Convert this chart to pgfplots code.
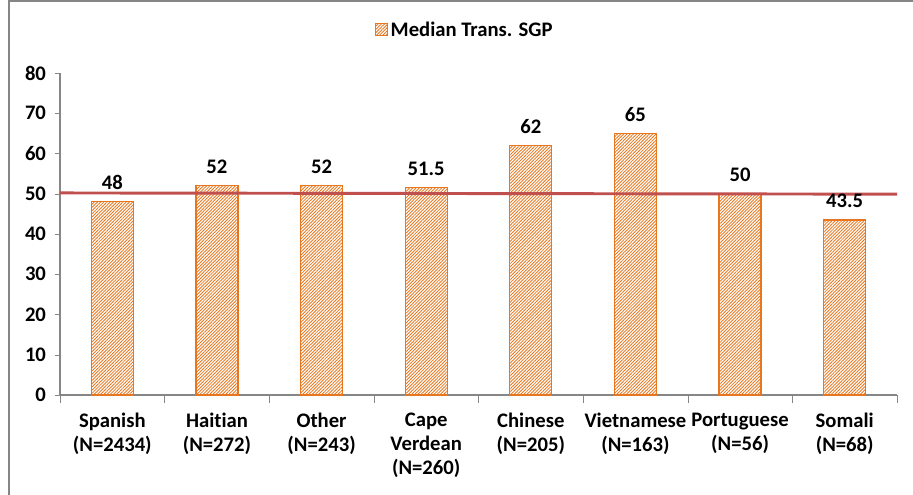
\documentclass[border=0pt]{standalone}
\usepackage{fontspec}
\setmainfont{Carlito}[Ligatures=NoCommon]
\usepackage{pgfplots}
\pgfplotsset{compat=1.18}
\usetikzlibrary{patterns.meta}

\definecolor{barorange}{HTML}{E8761E}
\definecolor{axisgray}{HTML}{868686}
\definecolor{medred}{HTML}{C0504D}

\begin{document}
\begin{tikzpicture}
% page is 913x495 px at 0.75pt per px; axis box lower left sits at px (60,395)
\useasboundingbox (-45pt,-75pt) rectangle (639.75pt,296.25pt);
\draw[axisgray, line width=1.5pt] (-38.6pt,-75pt) -- (-38.6pt,295.5pt) -- (639.75pt,295.5pt);

\begin{axis}[
    at={(0,0)}, anchor=south west,
    scale only axis,
    width=627.75pt, height=241.5pt,
    font=\fontsize{15.5}{18}\selectfont\bfseries,
    /pgf/number format/assume math mode=true,
    ybar, bar width=31.5pt, bar shift=0pt,
    xmin=-0.5, xmax=7.5,
    ymin=0, ymax=80,
    ytick={0,10,...,80},
    xtick={0,...,7},
    xticklabels={Spanish\\(N=2434), Haitian\\(N=272), Other\\(N=243),
        Cape\\Verdean\\(N=260), Chinese\\(N=205), Vietnamese\\(N=163),
        Portuguese\\(N=56), Somali\\(N=68)},
    xticklabel style={align=center, yshift=-6pt},
    yticklabel style={xshift=-3pt},
    minor xtick={-0.5,0.5,...,7.5},
    major x tick style={draw=none},
    minor x tick style={draw=axisgray},
    y tick style={draw=axisgray},
    major tick length=4pt, minor tick length=6pt,
    tick align=outside,
    axis x line*=bottom, axis y line*=left,
    axis line style={-, draw=axisgray, line width=0.8pt},
    nodes near coords,
    every node near coord/.append style={font=\fontsize{15.5}{18}\selectfont\bfseries, black, yshift=5pt},
    clip=false,
    legend style={at={(0.484,1.134)}, anchor=center, draw=none, fill=none,
        font=\fontsize{15.5}{18}\selectfont\bfseries, legend cell align=left},
    legend image code/.code={\draw[#1, line width=0.8pt] (0pt,-4.5pt) rectangle (9pt,4.5pt);},
]
\addplot[draw=barorange, line width=1pt,
    pattern={Lines[angle=45, distance=1.7pt, line width=0.65pt]},
    pattern color=barorange] coordinates {
    (0,48) (1,52) (2,52) (3,51.5) (4,62) (5,65) (6,50) (7,43.5)
};
\addlegendentry{Median Trans. SGP}

\addplot[sharp plot, medred, line width=2.2pt, nodes near coords={}, forget plot] coordinates {
    (-0.5,50.2) (7.5,49.9)
};
\end{axis}
\end{tikzpicture}
\end{document}
